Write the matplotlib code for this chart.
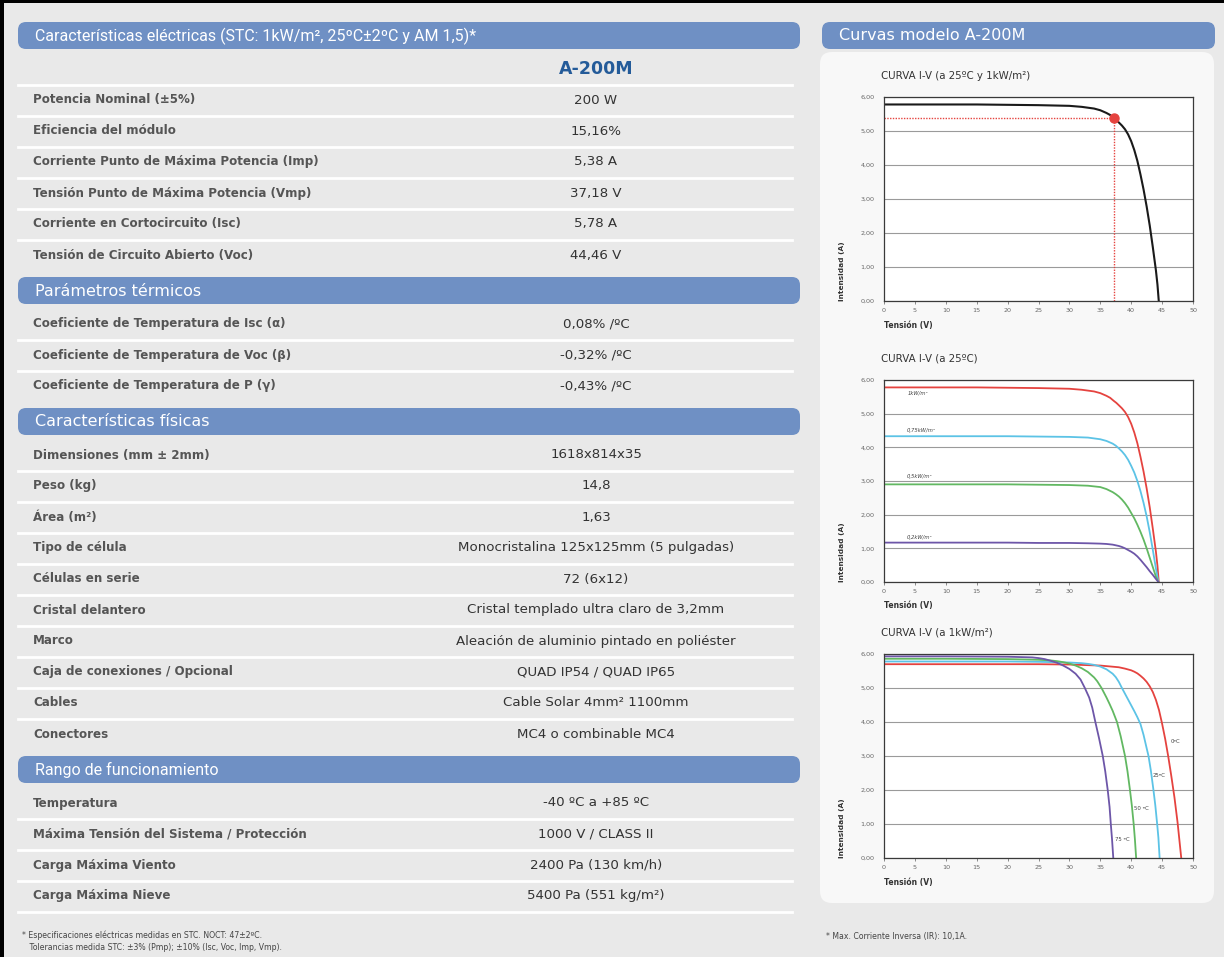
import matplotlib
matplotlib.use("Agg")
import matplotlib.pyplot as plt
from matplotlib.patches import FancyBboxPatch, Rectangle

W, H = 1224, 957

# --- datos de la tabla ---
header_titles = [
    "Características eléctricas (STC: 1kW/m², 25ºC±2ºC y AM 1,5)*",
    "Parámetros térmicos",
    "Características físicas",
    "Rango de funcionamiento",
]
model_name = "A-200M"

elec_labels = ["Potencia Nominal (±5%)", "Eficiencia del módulo",
               "Corriente Punto de Máxima Potencia (Imp)",
               "Tensión Punto de Máxima Potencia (Vmp)",
               "Corriente en Cortocircuito (Isc)",
               "Tensión de Circuito Abierto (Voc)"]
elec_values = ["200 W", "15,16%", "5,38 A", "37,18 V", "5,78 A", "44,46 V"]

therm_labels = ["Coeficiente de Temperatura de Isc (α)",
                "Coeficiente de Temperatura de Voc (β)",
                "Coeficiente de Temperatura de P (γ)"]
therm_values = ["0,08% /ºC", "-0,32% /ºC", "-0,43% /ºC"]

phys_labels = ["Dimensiones (mm ± 2mm)", "Peso (kg)", "Área (m²)", "Tipo de célula",
               "Células en serie", "Cristal delantero", "Marco",
               "Caja de conexiones / Opcional", "Cables", "Conectores"]
phys_values = ["1618x814x35", "14,8", "1,63", "Monocristalina 125x125mm (5 pulgadas)",
               "72 (6x12)", "Cristal templado ultra claro de 3,2mm",
               "Aleación de aluminio pintado en poliéster", "QUAD IP54 / QUAD IP65",
               "Cable Solar 4mm² 1100mm", "MC4 o combinable MC4"]

range_labels = ["Temperatura", "Máxima Tensión del Sistema / Protección",
                "Carga Máxima Viento", "Carga Máxima Nieve"]
range_values = ["-40 ºC a +85 ºC", "1000 V / CLASS II", "2400 Pa (130 km/h)",
                "5400 Pa (551 kg/m²)"]

footnote_left = ["* Especificaciones eléctricas medidas en STC. NOCT: 47±2ºC.",
                 "   Tolerancias medida STC: ±3% (Pmp); ±10% (Isc, Voc, Imp, Vmp)."]
footnote_right = "* Max. Corriente Inversa (IR): 10,1A."

# --- datos de las curvas ---
curves_title = "Curvas modelo A-200M"
chart_titles = ["CURVA I-V (a 25ºC y 1kW/m²)", "CURVA I-V (a 25ºC)", "CURVA I-V (a 1kW/m²)"]
x_ticks = [0, 5, 10, 15, 20, 25, 30, 35, 40, 45, 50]
y_ticks = [0, 1, 2, 3, 4, 5, 6]
y_tick_labels = ["0,00", "1,00", "2,00", "3,00", "4,00", "5,00", "6,00"]

# curva STC (1 kW/m2, 25 ºC)
v_stc = [0, 5, 10, 15, 20, 25, 30, 32, 34, 35, 36, 36.6, 37.18, 37.6, 38, 38.5, 39, 39.5,
         40, 40.5, 41, 41.5, 42, 42.5, 43, 43.5, 44, 44.25, 44.46]
i_stc = [5.78, 5.78, 5.78, 5.78, 5.77, 5.76, 5.74, 5.71, 5.66, 5.61, 5.53, 5.47, 5.38, 5.32,
         5.25, 5.16, 5.05, 4.90, 4.70, 4.44, 4.12, 3.72, 3.28, 2.78, 2.22, 1.58, 0.90, 0.48, 0]
v_mpp, i_mpp = 37.18, 5.38

# irradiancia (25 ºC)
irr_labels = ["1kW/m²", "0,75kW/m²", "0,5kW/m²", "0,2kW/m²"]
v_075 = [0, 10, 20, 25, 30, 33, 35, 36, 37, 37.5, 38, 38.5, 39, 39.5, 40, 40.5, 41, 41.5,
         42, 42.5, 43, 43.5, 44, 44.4]
i_075 = [4.33, 4.33, 4.33, 4.32, 4.31, 4.29, 4.24, 4.19, 4.11, 4.05, 3.97, 3.88, 3.77, 3.63,
         3.45, 3.25, 3.00, 2.70, 2.35, 1.95, 1.48, 0.95, 0.40, 0]
v_050 = [0, 10, 20, 25, 30, 33, 35, 36, 37, 37.5, 38, 38.5, 39, 39.5, 40, 40.5, 41, 41.5,
         42, 42.5, 43, 43.5, 44, 44.4]
i_050 = [2.90, 2.90, 2.90, 2.89, 2.88, 2.86, 2.82, 2.76, 2.67, 2.61, 2.54, 2.45, 2.34, 2.21,
         2.05, 1.89, 1.70, 1.49, 1.26, 1.00, 0.72, 0.44, 0.16, 0]
v_020 = [0, 10, 20, 25, 30, 33, 35, 36, 37, 38, 38.5, 39, 39.5, 40, 40.5, 41, 41.5, 42,
         42.5, 43, 43.5, 44, 44.4]
i_020 = [1.17, 1.17, 1.17, 1.16, 1.16, 1.15, 1.14, 1.13, 1.11, 1.07, 1.04, 1.00, 0.95, 0.90,
         0.84, 0.76, 0.66, 0.55, 0.44, 0.32, 0.21, 0.09, 0]
irr_label_pos = [(3.9, 5.6), (3.6, 4.5), (3.6, 3.13), (3.6, 1.33)]

# temperatura (1 kW/m2)
temp_labels = ["0ºC", "25ºC", "50 ºC", "75 ºC"]
v_t0 = [0, 10, 20, 25, 30, 35, 38, 39, 40, 40.5, 41, 41.5, 42, 42.5, 43, 43.5, 44, 44.5,
        45, 45.5, 46, 46.5, 47, 47.5, 48.1]
i_t0 = [5.70, 5.70, 5.70, 5.70, 5.69, 5.66, 5.61, 5.57, 5.52, 5.48, 5.43, 5.36, 5.28, 5.18,
        5.05, 4.88, 4.65, 4.35, 3.95, 3.50, 2.98, 2.40, 1.78, 1.05, 0]
v_t25 = [0, 10, 20, 25, 30, 32, 33, 34, 35, 36, 37, 37.5, 38, 38.5, 39, 39.5, 40, 40.5,
         41, 41.5, 42, 42.5, 42.8, 43.2, 43.6, 43.9, 44.2, 44.4, 44.6]
i_t25 = [5.78, 5.78, 5.78, 5.77, 5.75, 5.73, 5.71, 5.68, 5.63, 5.55, 5.42, 5.32, 5.18, 5.0,
         4.83, 4.66, 4.49, 4.32, 4.14, 3.94, 3.62, 3.23, 3.0, 2.55, 2.0, 1.55, 1.0, 0.6, 0]
v_t50 = [0, 10, 20, 25, 27, 28, 29, 30, 31, 32, 33, 34, 34.5, 35.2, 36, 36.5, 37, 37.7,
         38.3, 39, 39.4, 39.8, 40.1, 40.4, 40.6, 40.8]
i_t50 = [5.86, 5.86, 5.85, 5.83, 5.81, 5.79, 5.76, 5.72, 5.66, 5.58, 5.47, 5.31, 5.20, 5.0,
         4.72, 4.53, 4.33, 4.0, 3.58, 3.0, 2.55, 2.0, 1.55, 1.0, 0.55, 0]
v_t75 = [0, 10, 20, 24, 25, 26, 27, 28, 29, 30, 31, 31.8, 32.5, 33.2, 33.7, 34.2, 34.8,
         35.4, 35.8, 36.2, 36.5, 36.7, 36.9, 37.1]
i_t75 = [5.93, 5.93, 5.92, 5.90, 5.88, 5.85, 5.80, 5.74, 5.66, 5.56, 5.42, 5.25, 5.0, 4.72,
         4.42, 4.0, 3.52, 3.0, 2.55, 2.0, 1.5, 1.0, 0.55, 0]
temp_label_pos = [(46.4, 3.42), (43.4, 2.42), (40.4, 1.45), (37.4, 0.54)]

BLUE = "#6f90c4"
BG = "#e9e9e9"
RED, CYAN, GREEN, PURPLE = "#e5433f", "#5cc3e6", "#62b862", "#6d56a8"


def px_axes(fig, x0, y0, x1, y1):  # ejes definidos en pixeles
    return fig.add_axes([x0 / W, 1 - y1 / H, (x1 - x0) / W, (y1 - y0) / H])


def draw_header(ax, x0, x1, top, text, font="DejaVu Sans", size=11.5):
    ax.add_patch(FancyBboxPatch((x0, top), x1 - x0, 27,
                                boxstyle="round,pad=0,rounding_size=8",
                                fc=BLUE, ec="none", zorder=2))
    ax.text(x0 + 17, top + 14, text, color="white", fontsize=size, family=font,
            va="center", ha="left", zorder=3)


def draw_table(ax):
    sections = [
        (header_titles[0], [""] + elec_labels, [model_name] + elec_values, False),
        (header_titles[1], therm_labels, therm_values, False),
        (header_titles[2], phys_labels, phys_values, False),
        (header_titles[3], range_labels, range_values, True),
    ]
    top = 22
    pitch = 31
    for k, (title, labels, values, last_line) in enumerate(sections):
        font = "Roboto" if k in (0, 3) else "DejaVu Sans"
        draw_header(ax, 18, 800, top, title, font=font, size=11.5)
        y = top + 27 + 20
        for i, (lab, val) in enumerate(zip(labels, values)):
            if lab == "" and val == model_name:
                ax.text(596, y, val, fontsize=12.5, weight="bold", color="#245b99",
                        ha="center", va="center")
            else:
                ax.text(33, y, lab, fontsize=8.6, weight="bold", color="#555555",
                        ha="left", va="center")
                ax.text(596, y, val, fontsize=9.6, color="#333333",
                        ha="center", va="center")
            if i < len(labels) - 1 or last_line:
                ax.plot([18, 792], [y + 15.5, y + 15.5], color="white", lw=2, zorder=1)
            last_y = y
            y += pitch
        top = last_y + 22
    return last_y


def style_chart(ax, title):
    ax.set_xlim(0, 50)
    ax.set_ylim(0, 6)
    ax.set_xticks(x_ticks)
    ax.set_xticklabels([str(t) for t in x_ticks])
    ax.set_yticks(y_ticks)
    ax.set_yticklabels(y_tick_labels)
    ax.tick_params(axis="x", length=2, width=0.6, color="#777777", labelsize=4.6,
                   labelcolor="#666666", pad=3)
    ax.tick_params(axis="y", length=0, labelsize=4.6, labelcolor="#666666", pad=7)
    ax.grid(axis="y", color="#9a9a9a", lw=0.8)
    ax.set_axisbelow(True)
    for sp in ax.spines.values():
        sp.set_color("#3a3a3a")
        sp.set_linewidth(0.9)
    ax.set_facecolor("white")
    ax.text(-0.01, 1.105, title, transform=ax.transAxes, fontsize=7.4, color="#333333",
            ha="left", va="center")
    ax.text(-0.135, 0.0, "Intensidad (A)", transform=ax.transAxes, rotation=90,
            fontsize=5.3, weight="bold", color="#333333", ha="center", va="bottom")
    ax.text(0.0, -0.118, "Tensión (V)", transform=ax.transAxes, fontsize=5.5,
            weight="bold", color="#333333", ha="left", va="center")


def main():
    fig = plt.figure(figsize=(W / 100, H / 100), dpi=100)
    fig.patch.set_facecolor(BG)
    bg = fig.add_axes([0, 0, 1, 1])
    bg.set_xlim(0, W)
    bg.set_ylim(H, 0)
    bg.axis("off")

    # marco negro (arriba e izquierda)
    bg.add_patch(Rectangle((0, 0), W, 3, fc="black", ec="none", zorder=5))
    bg.add_patch(Rectangle((0, 0), 4, H, fc="black", ec="none", zorder=5))

    draw_table(bg)

    # panel derecho
    draw_header(bg, 822, 1215, 22, curves_title, size=11.5)
    bg.add_patch(FancyBboxPatch((820, 52), 394, 851,
                                boxstyle="round,pad=0,rounding_size=12",
                                fc="#f8f8f8", ec="none", zorder=1))

    # notas
    bg.text(22, 935, footnote_left[0], fontsize=5.6, color="#444444", va="center")
    bg.text(22, 948, footnote_left[1], fontsize=5.6, color="#444444", va="center")
    bg.text(826, 937, footnote_right, fontsize=5.6, color="#444444", va="center")

    # grafico 1: curva STC
    ax1 = px_axes(fig, 884, 97, 1193, 301)
    style_chart(ax1, chart_titles[0])
    ax1.plot(v_stc, i_stc, color="#1a1a1a", lw=1.5, solid_joinstyle="round")
    ax1.plot([0, v_mpp], [i_mpp, i_mpp], color=RED, lw=1.0, ls=(0, (1, 1)))
    ax1.plot([v_mpp, v_mpp], [0, i_mpp], color=RED, lw=1.0, ls=(0, (1, 1)))
    ax1.plot([v_mpp], [i_mpp], "o", color=RED, ms=6.5, zorder=5)

    # grafico 2: irradiancia
    ax2 = px_axes(fig, 884, 380, 1193, 582)
    style_chart(ax2, chart_titles[1])
    irr_series = [(v_stc, i_stc, RED), (v_075, i_075, CYAN),
                  (v_050, i_050, GREEN), (v_020, i_020, PURPLE)]
    for (v, i, c), lab, (lx, ly) in zip(irr_series, irr_labels, irr_label_pos):
        ax2.plot(v, i, color=c, lw=1.3, solid_joinstyle="round")
        ax2.text(lx, ly, lab, fontsize=3.8, style="italic", color="#444444",
                 ha="left", va="center")

    # grafico 3: temperatura
    ax3 = px_axes(fig, 884, 654, 1193, 858)
    style_chart(ax3, chart_titles[2])
    temp_series = [(v_t0, i_t0, RED), (v_t25, i_t25, CYAN),
                   (v_t50, i_t50, GREEN), (v_t75, i_t75, PURPLE)]
    for (v, i, c), lab, (lx, ly) in zip(temp_series, temp_labels, temp_label_pos):
        ax3.plot(v, i, color=c, lw=1.3, solid_joinstyle="round")
        ax3.text(lx, ly, lab, fontsize=3.9, color="#444444", ha="left", va="center")

    fig.savefig("out.png", dpi=100, facecolor=fig.get_facecolor())


if __name__ == "__main__":
    main()
